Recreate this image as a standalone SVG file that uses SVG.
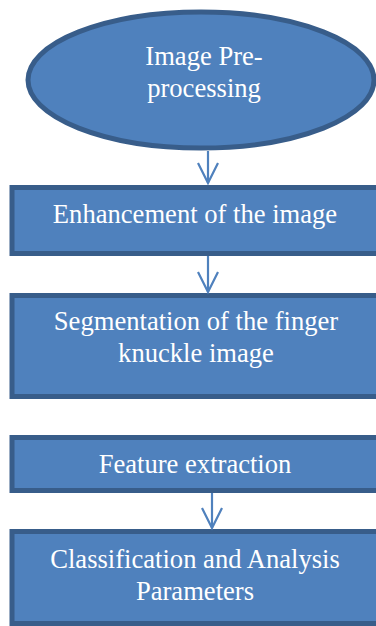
<svg xmlns="http://www.w3.org/2000/svg" width="376" height="626" viewBox="0 0 376 626">
  <style>
    .shape { fill: #4F81BD; stroke: #385D8A; stroke-width: 5; }
    .label { font-family: "Liberation Serif", "Times New Roman", serif; font-size: 26.6px; fill: #FFFFFF; text-anchor: middle; }
    .link { stroke: #4F81BD; stroke-width: 2.2; fill: none; }
  </style>
  <defs>
    <marker id="open-arrow" markerUnits="userSpaceOnUse" markerWidth="30" markerHeight="30" refX="0" refY="0" orient="auto" overflow="visible">
      <path d="M-20,-10 L0,0 L-20,10" fill="none" stroke="#4F81BD" stroke-width="2.2"/>
    </marker>
  </defs>
  <rect width="376" height="626" fill="#FFFFFF"/>

  <g id="preprocessing">
    <ellipse class="shape" cx="201" cy="80" rx="173" ry="68"/>
    <text class="label" x="204" y="65">Image Pre-</text>
    <text class="label" x="204" y="97">processing</text>
  </g>

  <g id="enhancement">
    <rect class="shape" x="12" y="187.5" width="380" height="66"/>
    <text class="label" x="195" y="223">Enhancement of the image</text>
  </g>

  <g id="segmentation">
    <rect class="shape" x="12" y="295.5" width="380" height="101"/>
    <text class="label" x="196" y="330">Segmentation of the finger</text>
    <text class="label" x="196" y="362">knuckle image</text>
  </g>

  <g id="feature-extraction">
    <rect class="shape" x="12" y="437.5" width="380" height="53"/>
    <text class="label" x="195" y="473">Feature extraction</text>
  </g>

  <g id="classification">
    <rect class="shape" x="12" y="531.5" width="380" height="92"/>
    <text class="label" x="195" y="568">Classification and Analysis</text>
    <text class="label" x="195" y="600">Parameters</text>
  </g>

  <g id="connectors">
    <line class="link" x1="208" y1="151" x2="208" y2="183" marker-end="url(#open-arrow)"/>
    <line class="link" x1="208" y1="256" x2="208" y2="292" marker-end="url(#open-arrow)"/>
    <line class="link" x1="212" y1="493" x2="212" y2="528" marker-end="url(#open-arrow)"/>
  </g>
</svg>
